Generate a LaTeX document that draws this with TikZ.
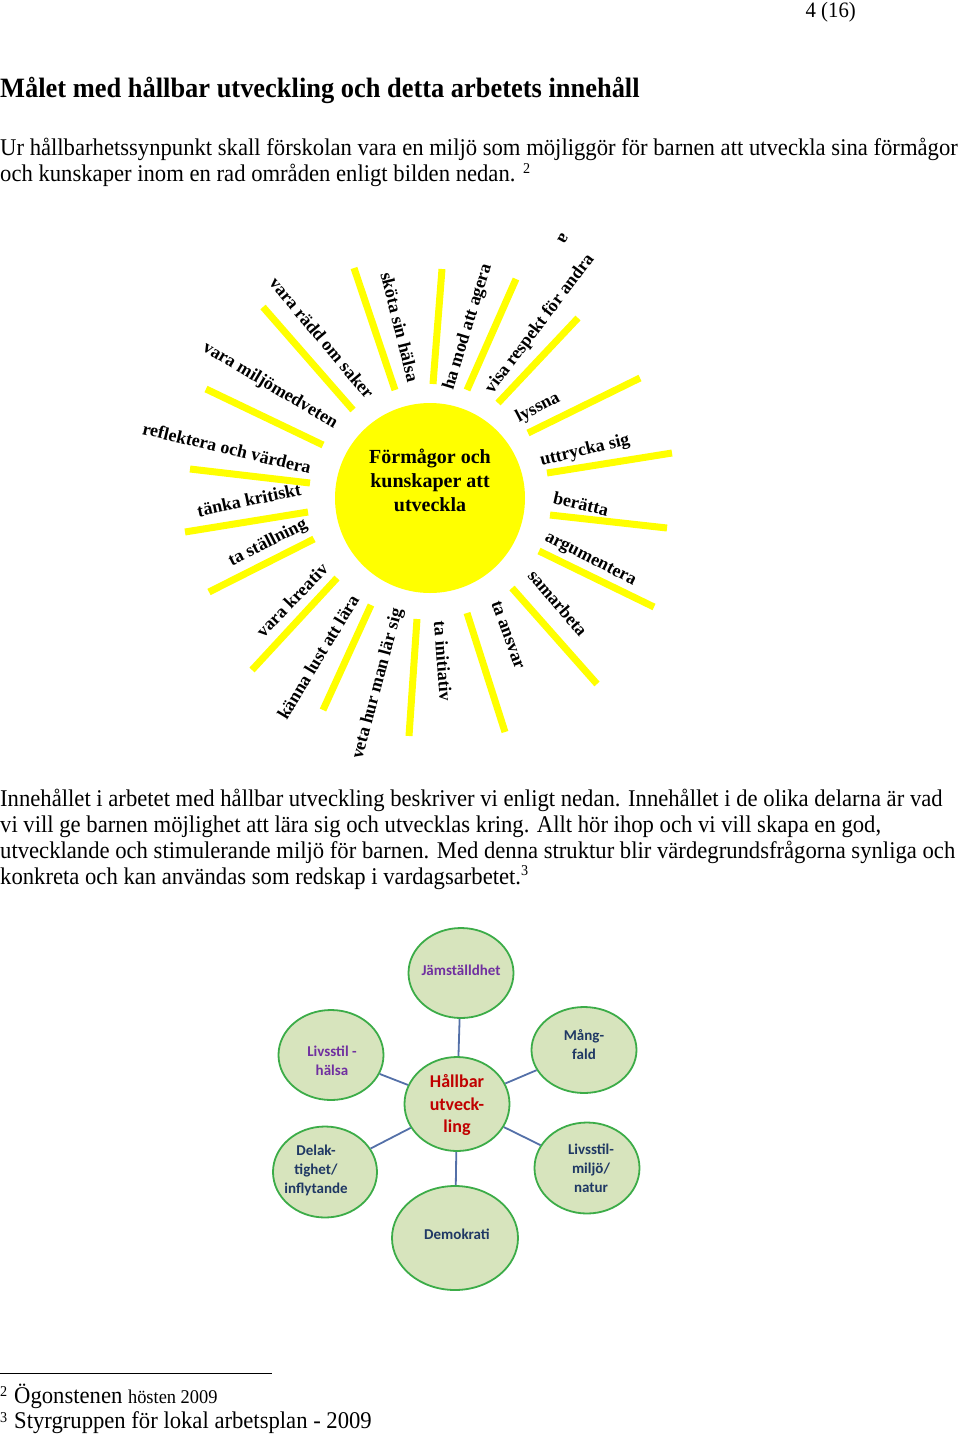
\documentclass[tikz,border=0pt]{standalone}
\usepackage{fontspec}
\setmainfont{Liberation Serif}
\newfontfamily\bodyfont[FakeStretch=0.944]{Liberation Serif}
\newfontfamily\diafont{Carlito}
\definecolor{sunyellow}{RGB}{255,255,0}
\definecolor{ellfill}{RGB}{215,228,189}
\definecolor{elldraw}{RGB}{60,172,72}
\definecolor{linkblue}{RGB}{84,112,168}
\definecolor{purp}{RGB}{112,48,160}
\definecolor{navy}{RGB}{31,56,100}
\definecolor{dred}{RGB}{192,0,0}
\tikzset{
  bodyline/.style={anchor=base west, inner sep=0pt, font=\bodyfont\fontsize{24}{26}\selectfont},
  ray/.style={draw=sunyellow, line width=7pt},
  sunlab/.style={inner sep=0pt, font=\bfseries\fontsize{18}{20}\selectfont},
  ell/.style={ellipse, draw=elldraw, line width=1.8pt, fill=ellfill, inner sep=0pt},
  elltext/.style={align=center, inner sep=0pt, font=\diafont\bfseries\fontsize{15}{19}\selectfont},
  link/.style={draw=linkblue, line width=1.8pt},
}
\usetikzlibrary{shapes.geometric}
\begin{document}
\begin{tikzpicture}[x=1pt,y=-1pt]
\useasboundingbox (0,0) rectangle (960,1438);
% header
\node[anchor=base east, inner sep=0pt, font=\bodyfont\fontsize{22}{24}\selectfont] (pnum) at (856,17) {4 (16)};
\node[anchor=base west, inner sep=0pt, font=\bodyfont\bfseries\fontsize{28}{30}\selectfont] (head) at (0,97) {Målet med hållbar utveckling och detta arbetets innehåll};
\node[bodyline] (p1a) at (0,155) {Ur hållbarhetssynpunkt skall förskolan vara en miljö som möjliggör för barnen att utveckla sina förmågor};
\node[bodyline] (p1b) at (0,181) {och kunskaper inom en rad områden enligt bilden nedan. \raisebox{8pt}{\fontsize{15}{15}\selectfont 2}};
% sun
\fill[sunyellow] (430,498) circle (95);
\node[inner sep=0pt, align=center, font=\bfseries\fontsize{20}{24}\selectfont] (core) at (430,480) {Förmågor och\\kunskaper att\\utveckla};
\draw[ray] (190,469) -- (310,483);
\draw[ray] (185,532) -- (308,512);
\draw[ray] (209,592) -- (314,539);
\draw[ray] (252,670) -- (337,578);
\draw[ray] (323,710) -- (371,605);
\draw[ray] (409,736) -- (417,619);
\draw[ray] (505,732) -- (467,613);
\draw[ray] (597,684) -- (512,588);
\draw[ray] (654,607) -- (539,551);
\draw[ray] (667,528) -- (550,515);
\draw[ray] (672,453) -- (547,473);
\draw[ray] (640,378) -- (528,433);
\draw[ray] (578,318) -- (498,403);
\draw[ray] (516,279) -- (467,390);
\draw[ray] (442,269) -- (433,384);
\draw[ray] (354,268) -- (395,390);
\draw[ray] (263,307) -- (353,410);
\draw[ray] (206,389) -- (323,445);
\node[sunlab, rotate=-13.4] (s1) at (227,448) {reflektera och värdera};
\node[sunlab, rotate=12] (s2) at (249,500) {tänka kritiskt};
\node[sunlab, rotate=27] (s3) at (268,543) {ta ställning};
\node[sunlab, rotate=46] (s4) at (292,600) {vara kreativ};
\node[sunlab, rotate=59] (s5) at (318,657) {känna lust att lära};
\node[sunlab, rotate=75] (s6) at (378,684) {veta hur man lär sig};
\node[sunlab, rotate=-85.6] (s7) at (443,661) {ta initiativ};
\node[sunlab, rotate=-70] (s8) at (508,635) {ta ansvar};
\node[sunlab, rotate=-49.6] (s9) at (558,603) {samarbeta};
\node[sunlab, rotate=-26.8] (s10) at (590,560) {argumentera};
\node[sunlab, rotate=-13] (s11) at (581,504) {berätta};
\node[sunlab, rotate=13.7] (s12) at (585,451) {uttrycka sig};
\node[sunlab, rotate=27.6] (s13) at (538,408) {lyssna};
\node[sunlab, rotate=52.9] (s14) at (540,324) {visa respekt för andra};
\node[sunlab, rotate=73] (s15) at (468,327) {ha mod att agera};
\node[sunlab, rotate=-76] (s16) at (400,327) {sköta sin hälsa};
\node[sunlab, rotate=-50] (s17) at (322,338) {vara rädd om saker};
\node[sunlab, rotate=-30.6] (s18) at (270,386) {vara miljömedveten};
\node[sunlab, rotate=-120] (s19) at (563,238) {a};
% paragraph 2
\node[bodyline] (p2a) at (0,806) {Innehållet i arbetet med hållbar utveckling beskriver vi enligt nedan. Innehållet i de olika delarna är vad};
\node[bodyline] (p2b) at (0,832) {vi vill ge barnen möjlighet att lära sig och utvecklas kring. Allt hör ihop och vi vill skapa en god,};
\node[bodyline] (p2c) at (0,858) {utvecklande och stimulerande miljö för barnen. Med denna struktur blir värdegrundsfrågorna synliga och};
\node[bodyline] (p2d) at (0,884) {konkreta och kan användas som redskap i vardagsarbetet.\raisebox{9pt}{\fontsize{15}{15}\selectfont 3}};
% diagram
\node[ell, minimum width=105pt, minimum height=94pt] (hu) at (457,1104) {};
\node[ell, minimum width=105pt, minimum height=90pt] (ja) at (461,973) {};
\node[ell, minimum width=105pt, minimum height=86pt] (ma) at (584,1050) {};
\node[ell, minimum width=105pt, minimum height=90pt] (lh) at (331,1055) {};
\node[ell, minimum width=104pt, minimum height=91pt] (de) at (325,1172) {};
\node[ell, minimum width=105pt, minimum height=91pt] (lm) at (587,1168) {};
\node[ell, minimum width=126pt, minimum height=104pt] (dm) at (455,1238) {};
\draw[link] (hu) -- (ja);
\draw[link] (hu) -- (ma);
\draw[link] (hu) -- (lh);
\draw[link] (hu) -- (de);
\draw[link] (hu) -- (lm);
\draw[link] (hu) -- (dm);
\node[elltext, text=dred, font=\diafont\bfseries\fontsize{18}{22.5}\selectfont] (thu) at (457,1105) {Hållbar\\utveck-\\ling};
\node[elltext, text=purp] (tja) at (461,970) {Jämställdhet};
\node[elltext, text=navy] (tma) at (584,1045) {Mång-\\fald};
\node[elltext, text=purp] (tlh) at (332,1061) {Livsstil -\\hälsa};
\node[elltext, text=navy] (tde) at (316,1170) {Delak-\\tighet/\\inflytande};
\node[elltext, text=navy] (tlm) at (591,1168) {Livsstil-\\miljö/\\natur};
\node[elltext, text=navy] (tdm) at (457,1234) {Demokrati};
% footnotes
\draw[line width=1pt] (0,1373) -- (272,1373);
\node[anchor=base west, inner sep=0pt, font=\bodyfont\fontsize{15}{15}\selectfont] (f2n) at (0,1396) {2};
\node[anchor=base west, inner sep=0pt, font=\bodyfont\fontsize{24}{26}\selectfont] (f2) at (14,1403) {Ögonstenen {\fontsize{19.5}{20}\selectfont hösten 2009}};
\node[anchor=base west, inner sep=0pt, font=\bodyfont\fontsize{15}{15}\selectfont] (f3n) at (0,1422) {3};
\node[anchor=base west, inner sep=0pt, font=\bodyfont\fontsize{24}{26}\selectfont] (f3) at (14,1428) {Styrgruppen för lokal arbetsplan - 2009};
\end{tikzpicture}
\end{document}
